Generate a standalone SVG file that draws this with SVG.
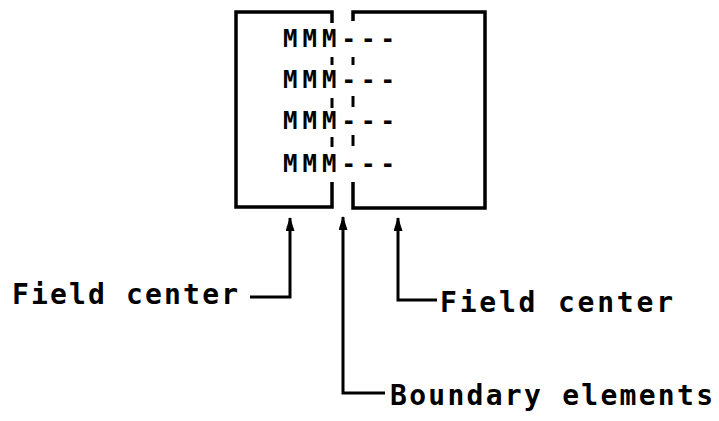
<svg xmlns="http://www.w3.org/2000/svg" width="719" height="421" viewBox="0 0 719 421">
<style>
.box{fill:none;stroke:#000;stroke-width:3.5;stroke-linejoin:miter}
.dash{stroke:#000;stroke-width:3}
.con{fill:none;stroke:#000;stroke-width:3}
.mm{font-family:"DejaVu Sans Mono","Liberation Mono",monospace;font-weight:bold;font-size:24px;fill:#000}
.lbl{font-family:"DejaVu Sans Mono","Liberation Mono",monospace;font-weight:bold;font-size:28px;fill:#000}
</style>
<defs>
<marker id="ah" viewBox="0 0 14 9" refX="13" refY="4.5" markerWidth="14" markerHeight="9" orient="auto" markerUnits="userSpaceOnUse">
<path d="M0,0 L14,4.5 L0,9 z" fill="#000"/>
</marker>
</defs>
<rect width="719" height="421" fill="#fff"/>
<g id="left-field">
<path class="box" d="M332,23 V12 H236 V207 H332 V182"/>
</g>
<g id="right-field">
<path class="box" d="M353,21 V12 H485 V208 H353 V182"/>
</g>
<g id="boundary">
<line class="dash" x1="332" y1="57" x2="332" y2="65"/>
<line class="dash" x1="332" y1="98" x2="332" y2="108"/>
<line class="dash" x1="332" y1="137" x2="332" y2="147"/>
<line class="dash" x1="353" y1="57" x2="353" y2="65"/>
<line class="dash" x1="353" y1="96" x2="353" y2="107"/>
<line class="dash" x1="353" y1="135" x2="353" y2="146"/>
<text class="mm" x="283" y="47" textLength="112" lengthAdjust="spacing">MMM---</text>
<text class="mm" x="283" y="88" textLength="112" lengthAdjust="spacing">MMM---</text>
<text class="mm" x="283" y="129" textLength="112" lengthAdjust="spacing">MMM---</text>
<text class="mm" x="283" y="172" textLength="112" lengthAdjust="spacing">MMM---</text>
</g>
<g id="label-left">
<text class="lbl" x="12" y="304" textLength="226" lengthAdjust="spacing">Field center</text>
</g>
<g id="label-right">
<text class="lbl" x="440" y="312" textLength="233" lengthAdjust="spacing">Field center</text>
</g>
<g id="label-boundary">
<text class="lbl" x="390" y="405" textLength="323" lengthAdjust="spacing">Boundary elements</text>
</g>
<g id="connectors">
<path class="con" d="M250,297 H290 V218" marker-end="url(#ah)"/>
<path class="con" d="M437,300 H398 V218" marker-end="url(#ah)"/>
<path class="con" d="M385,393 H343 V217" marker-end="url(#ah)"/>
</g>
</svg>
